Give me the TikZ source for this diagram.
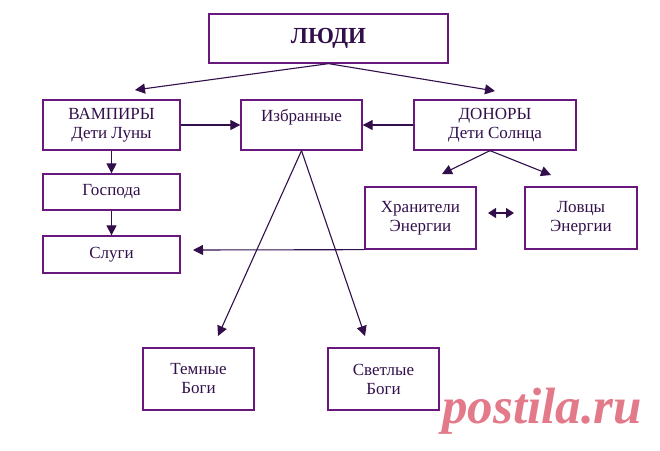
\documentclass[tikz,border=0pt]{standalone}
\usepackage{fontspec}
\setmainfont{Liberation Serif}
\usetikzlibrary{arrows.meta}

\definecolor{boxline}{RGB}{105,25,125}
\definecolor{boxtext}{RGB}{50,15,75}
\definecolor{arrline}{RGB}{50,15,75}
\definecolor{stamp}{RGB}{226,122,138}

\begin{document}
\begin{tikzpicture}[x=1pt, y=-1pt,
    box/.style={draw=boxline, line width=1.3pt, inner sep=0pt, align=center,
        text=boxtext, font=\fontsize{17}{19}\selectfont},
    link/.style={draw=arrline, line width=1.1pt, -{Triangle[length=10pt,width=10pt]}},
    twolink/.style={draw=arrline, line width=1.1pt,
        {Triangle[length=8pt,width=10pt]}-{Triangle[length=8pt,width=10pt]}}]
    \useasboundingbox (0,0) rectangle (660,450);

    % top
    \node[box, minimum width=239pt, minimum height=49pt,
        font=\fontsize{23}{26}\selectfont\bfseries] (people) at (328.5,38.5) {ЛЮДИ};

    % second row
    \node[box, minimum width=137pt, minimum height=50pt] (vampires) at (111.5,125) {ВАМПИРЫ\\Дети Луны};
    \node[box, minimum width=121pt, minimum height=50pt] (chosen) at (301.5,125) {Избранные\\[-6pt]\strut};
    \node[box, minimum width=162pt, minimum height=50pt] (donors) at (495,125) {ДОНОРЫ\\Дети Солнца};

    % vampire branch
    \node[box, minimum width=137pt, minimum height=36pt] (lords) at (111.5,192) {Господа};
    \node[box, minimum width=137pt, minimum height=37pt] (servants) at (111.5,254.5) {Слуги};

    % donor branch
    \node[box, minimum width=111pt, minimum height=62pt] (keepers) at (420.5,218) {Хранители\\Энергии};
    \node[box, minimum width=112pt, minimum height=62pt] (hunters) at (581,218) {Ловцы\\Энергии};

    % gods
    \node[box, minimum width=111pt, minimum height=62pt] (darkgods) at (198.5,379) {Темные\\Боги};
    \node[box, minimum width=111pt, minimum height=62pt] (lightgods) at (383.5,379) {Светлые\\Боги};

    % free ends of the arrows
    \coordinate (vampIn) at (135,90);
    \coordinate (donorIn) at (495,91);
    \coordinate (keepIn) at (442,174);
    \coordinate (huntIn) at (551,175);
    \coordinate (pairL) at (488,213);
    \coordinate (pairR) at (514,213);
    \coordinate (servIn) at (193,250);
    \coordinate (darkIn) at (218,336);
    \coordinate (lightIn) at (365,336);

    % arrows
    \draw[link] (people.south) -- (vampIn);
    \draw[link] (people.south) -- (donorIn);
    \draw[link] (vampires.east) -- (chosen.west);
    \draw[link] (donors.west) -- (chosen.east);
    \draw[link] (vampires.south) -- (lords.north);
    \draw[link] (lords.south) -- (servants.north);
    \draw[link] ([xshift=-5pt]donors.south) -- (keepIn);
    \draw[link] ([xshift=-5pt]donors.south) -- (huntIn);
    \draw[twolink] (pairL) -- (pairR);
    \draw[link] (keepers.south west) -- (servIn);
    \draw[link] (chosen.south) -- (darkIn);
    \draw[link] (chosen.south) -- (lightIn);

    % watermark
    \node[text=stamp, font=\fontsize{51}{53}\selectfont\bfseries\itshape, anchor=base west,
        inner sep=0pt] (mark) at (442,423) {postila.ru};
\end{tikzpicture}
\end{document}
